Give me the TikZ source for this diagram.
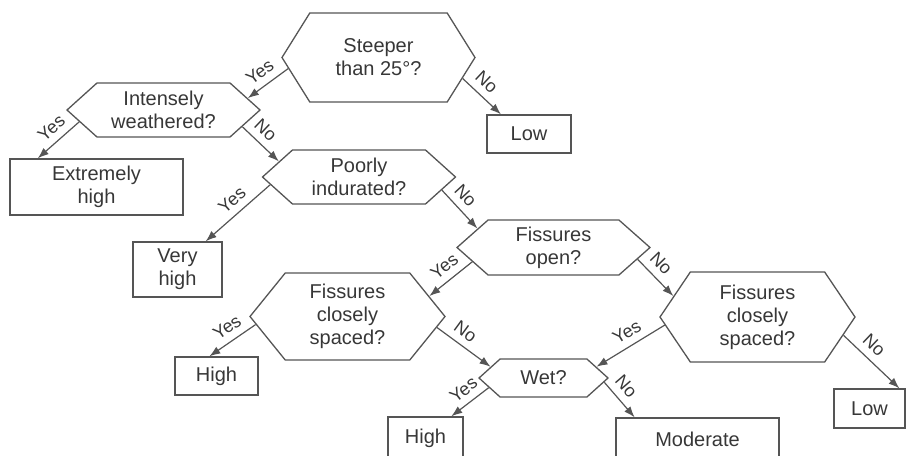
\documentclass[tikz,border=0pt]{standalone}
\usepackage{fontspec}
\setmainfont{Liberation Sans}
\usepackage{tikz}
\usetikzlibrary{arrows.meta,positioning,calc,shapes.symbols}
\definecolor{linegray}{RGB}{85,85,85}
\definecolor{textgray}{RGB}{55,55,55}

\begin{document}
\begin{tikzpicture}[x=1pt,y=-1pt,
quest/.style={signal,signal to=east and west,draw=linegray,line width=1.3pt,text=textgray,
  align=center,inner sep=0pt,minimum width=193pt,font=\fontsize{20}{23}\selectfont},
leaf/.style={rectangle,draw=linegray,line width=1.3pt,text=textgray,align=center,
  inner sep=0pt,font=\fontsize{20}{23}\selectfont},
arc/.style={-{Latex[length=11pt,width=8pt]},line width=1.2pt,draw=linegray},
ans/.style={sloped,above=6pt,inner sep=1pt,text=textgray,font=\fontsize{18}{18}\selectfont}]
\useasboundingbox (0,0) rectangle (907,455);
% questions
\node[quest,minimum height=89pt,signal pointer angle=116] (q1) at (378.5,57.5) {Steeper\\than 25°?};
\node[quest,minimum height=54pt,signal pointer angle=84] (q2) at (163.5,110) {Intensely\\weathered?};
\node[quest,minimum height=54pt,signal pointer angle=84] (q3) at (359,177) {Poorly\\indurated?};
\node[quest,minimum height=55pt,signal pointer angle=83] (q4) at (553.5,247.5) {Fissures\\open?};
\node[quest,minimum height=87pt,signal pointer angle=102,minimum width=195pt] (q5) at (347.5,316.5) {Fissures\\closely\\spaced?};
\node[quest,minimum height=90pt,signal pointer angle=112,minimum width=195pt] (q6) at (757.5,317) {Fissures\\closely\\spaced?};
\node[quest,minimum height=38pt,signal pointer angle=84,minimum width=129pt] (q7) at (543.5,378) {Wet?};
% answers
\node[leaf,minimum width=84pt,minimum height=38pt] (low1) at (529,134) {Low};
\node[leaf,minimum width=173pt,minimum height=56pt] (xhigh) at (96.5,187) {Extremely\\high};
\node[leaf,minimum width=89pt,minimum height=55pt] (vhigh) at (177.5,269.5) {Very\\high};
\node[leaf,minimum width=83pt,minimum height=38pt] (high1) at (216.5,376) {High};
\node[leaf,minimum width=71pt,minimum height=39pt] (low2) at (869.5,408.5) {Low};
\node[leaf,minimum width=75pt,minimum height=42pt] (high2) at (425.5,438) {High};
\node[leaf,minimum width=163pt,minimum height=42pt] (mod) at (697.5,439) {Moderate};
% branches
\draw[arc] (q1.187) -- node[ans,pos=0.5] {Yes} (q2.8);
\draw[arc] (q1.346) -- node[ans,pos=0.38] {No} (low1.145);
\draw[arc] (q2.188) -- node[ans,pos=0.45] {Yes} (xhigh.154);
\draw[arc] (q2.348) -- node[ans,pos=0.38] {No} (q3.169);
\draw[arc] (q3.185) -- node[ans,pos=0.45] {Yes} (vhigh.45);
\draw[arc] (q3.351) -- node[ans,pos=0.38] {No} (q4.166);
\draw[arc] (q4.190) -- node[ans,pos=0.45] {Yes} (q5.14);
\draw[arc] (q4.352) -- node[ans,pos=0.38] {No} (q6.166);
\draw[arc] (q5.185) -- node[ans,pos=0.45] {Yes} (high1.110);
\draw[arc] (q5.353) -- node[ans,pos=0.38] {No} (q7.168);
\draw[arc] (q6.185) -- node[ans,pos=0.45] {Yes} (q7.12);
\draw[arc] (q6.348) -- node[ans,pos=0.38] {No} (low2.34);
\draw[arc] (q7.190) -- node[ans,pos=0.45] {Yes} (high2.40);
\draw[arc] (q7.356) -- node[ans,pos=0.38] {No} (mod.161);
\end{tikzpicture}
\end{document}
